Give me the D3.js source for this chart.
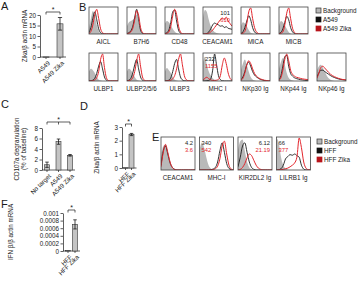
<!DOCTYPE html>
<html><head><meta charset="utf-8">
<script src="https://cdn.jsdelivr.net/npm/d3@7"></script>
<style>body{margin:0;background:#fff}svg{display:block;font-family:"Liberation Sans",Arial,sans-serif}</style>
</head><body><svg id="c" width="364" height="290"></svg>
<script>
// ---------- bar panel data ----------
const aCats = ["A549", "A549 Zika"];
const aVals = [0.05, 15.8];
const aErrs = [0, 3];
const aTicks = [0, 5, 10, 15, 20];

const cCats = ["No target", "A549", "A549 Zika"];
const cVals = [1.0, 5.4, 2.8];
const cErrs = [0.5, 0.5, 0.15];
const cTicks = [0, 2, 4, 6, 8];

const dCats = ["HFF", "HFF Zika"];
const dVals = [0.02, 2.45];
const dErrs = [0, 0.08];
const dTicks = [0, 1, 2, 3];

const fCats = ["HFF", "HFF Zika"];
const fVals = [0.00001, 0.0007];
const fErrs = [0, 0.00012];
const fTicks = [0, 0.0002, 0.0004, 0.0006, 0.0008, 0.001];

// ---------- histogram data (16 bins, % of panel height) ----------
const bRow1 = ["AICL", "B7H6", "CD48", "CEACAM1", "MICA", "MICB"];
const bRow2 = ["ULBP1", "ULBP2/5/6", "ULBP3", "MHC I", "NKp30 Ig", "NKp44 Ig", "NKp46 Ig"];
const bBackground = [
  [20,60,88,70,35,12,3,0,0,0,0,0,0,0,0,0],
  [30,45,50,55,62,75,45,15,3,0,0,0,0,0,0,0],
  [40,50,45,35,20,10,4,1,0,0,0,0,0,0,0,0],
  [60,92,85,55,30,15,8,4,2,1,0,0,0,0,0,0],
  [30,45,40,30,15,5,2,0,0,0,0,0,0,0,0,0],
  [30,50,45,35,20,8,2,0,0,0,0,0,0,0,0,0],
  [35,45,40,30,15,5,2,0,0,0,0,0,0,0,0,0],
  [35,45,40,30,15,5,2,0,0,0,0,0,0,0,0,0],
  [35,48,40,30,15,5,2,0,0,0,0,0,0,0,0,0],
  [70,90,60,35,20,10,5,2,1,0,0,0,0,0,0,0],
  [40,65,80,60,35,15,6,2,0,0,0,0,0,0,0,0],
  [45,70,85,60,30,12,5,2,0,0,0,0,0,0,0,0],
  [40,55,60,50,35,20,10,5,2,0,0,0,0,0,0,0]
];
const bA549 = [
  [5,25,60,85,55,20,5,1,0,0,0,0,0,0,0,0],
  [2,5,12,30,65,95,55,15,3,0,0,0,0,0,0,0],
  [2,5,15,45,85,92,50,15,3,0,0,0,0,0,0,0],
  [0,0,2,8,20,35,42,38,35,30,32,25,28,22,20,18],
  [2,8,25,50,70,55,25,8,2,0,0,0,0,0,0,0],
  [2,6,20,45,68,55,25,8,2,0,0,0,0,0,0,0],
  [0,1,3,10,28,55,72,45,15,3,0,0,0,0,0,0],
  [1,3,10,30,60,80,45,15,3,0,0,0,0,0,0,0],
  [0,1,3,12,35,65,80,45,15,4,1,0,0,0,0,0],
  [0,0,1,2,8,40,100,60,20,5,1,0,0,0,0,0],
  [5,15,35,60,70,55,35,22,15,10,6,4,2,1,0,0],
  [5,20,55,90,95,55,28,18,12,9,7,5,4,3,2,1],
  [15,30,40,40,35,30,25,20,16,13,10,8,6,5,4,3]
];
const bA549Zika = [
  [2,10,35,75,95,60,20,5,1,0,0,0,0,0,0,0],
  [1,3,8,22,55,90,72,25,6,1,0,0,0,0,0,0],
  [1,3,8,30,70,95,75,30,8,1,0,0,0,0,0,0],
  [0,0,1,3,8,15,25,35,45,55,62,55,65,50,40,30],
  [1,3,10,40,85,100,60,25,8,2,0,0,0,0,0,0],
  [1,3,8,35,80,100,60,22,6,1,0,0,0,0,0,0],
  [0,0,1,4,12,35,80,100,50,12,2,0,0,0,0,0],
  [0,1,4,12,35,75,100,55,15,3,0,0,0,0,0,0],
  [0,0,1,3,8,20,45,80,100,60,20,5,1,0,0,0],
  [3,10,14,8,4,2,2,3,6,20,60,85,65,30,10,3],
  [3,10,30,60,75,65,45,28,18,12,8,5,3,2,1,0],
  [3,12,40,80,100,75,40,25,18,14,12,10,8,7,6,5],
  [10,30,50,55,48,40,32,25,20,16,13,10,8,6,5,4]
];
const bNumMarkers = ["CEACAM1", "MHC I"];
const bNumBlack = ["101", "232"];
const bNumRed = ["610", "1155"];
const bLegend = ["Background", "A549", "A549 Zika"];

const eMarkers = ["CEACAM1", "MHC-I", "KIR2DL2 Ig", "LILRB1 Ig"];
const eBackground = [
  [40,75,80,50,20,6,2,0,0,0,0,0,0,0,0,0],
  [60,85,70,40,15,5,1,0,0,0,0,0,0,0,0,0],
  [60,90,95,60,25,8,2,0,0,0,0,0,0,0,0,0],
  [100,85,40,15,5,1,0,0,0,0,0,0,0,0,0,0]
];
const eHFF = [
  [15,60,75,50,22,8,2,0,0,0,0,0,0,0,0,0],
  [0,0,0,0,0,1,3,8,25,60,85,55,20,5,1,0],
  [10,40,75,85,55,25,8,2,0,0,0,0,0,0,0,0],
  [0,1,4,15,35,42,48,46,50,45,40,15,3,0,0,0]
];
const eHFFZika = [
  [10,55,80,55,25,8,2,0,0,0,0,0,0,0,0,0],
  [0,0,0,0,0,0,1,4,12,35,75,90,50,15,3,0],
  [0,2,8,20,38,50,45,30,15,6,2,0,0,0,0,0],
  [0,0,1,2,4,6,10,15,22,40,100,70,25,6,1,0]
];
const eNumBlack = ["4.2", "340", "6.12", "66"];
const eNumRed = ["3.6", "542", "21.19", "377"];
const eLegend = ["Background", "HFF", "HFF Zika"];

// ---------- drawing ----------
const svg = d3.select("#c");
const INK = "#1a1a1a", RED = "#e3262d", GREY = "#b9b9b9";
const FS = 6.3;

function letter(t, x, y) {
  svg.append("text").attr("x", x).attr("y", y).attr("font-size", 11).attr("fill", INK).text(t);
}

function barPanel(o) {
  const g = svg.append("g");
  const y = d3.scaleLinear().domain([o.ticks[0], o.ticks[o.ticks.length - 1]]).range([o.yBot, o.yTop]);
  const x = d3.scalePoint().domain(o.cats).range(o.xRange);
  const ag = g.append("g").attr("transform", `translate(${o.ax},0)`)
    .call(d3.axisLeft(y).tickValues(o.ticks).tickSize(2.5).tickPadding(1.5).tickSizeOuter(0).tickFormat(o.fmt));
  ag.attr("font-family", null).attr("font-size", FS);
  ag.selectAll("text").attr("fill", INK);
  ag.selectAll("line,path").attr("stroke", INK).attr("stroke-width", 0.7);
  // baseline + ticks
  g.append("line").attr("x1", o.ax).attr("x2", o.xRange[1] + o.barW).attr("y1", o.yBot).attr("y2", o.yBot)
    .attr("stroke", INK).attr("stroke-width", 0.7);
  o.cats.forEach(c => {
    g.append("line").attr("x1", x(c)).attr("x2", x(c)).attr("y1", o.yBot).attr("y2", o.yBot + 2)
      .attr("stroke", INK).attr("stroke-width", 0.7);
  });
  // bars
  o.cats.forEach((c, i) => {
    const v = o.vals[i], e = o.errs[i];
    g.append("rect").attr("x", x(c) - o.barW / 2).attr("y", y(v)).attr("width", o.barW)
      .attr("height", Math.max(0.5, o.yBot - y(v))).attr("fill", "#c4c4c4").attr("stroke", "#333").attr("stroke-width", 0.6);
    if (e > 0) {
      const cw = o.barW * 0.35;
      g.append("path").attr("d",
        `M${x(c)},${y(v - e)}V${y(v + e)}M${x(c) - cw},${y(v + e)}H${x(c) + cw}M${x(c) - cw},${y(v - e)}H${x(c) + cw}`)
        .attr("stroke", INK).attr("stroke-width", 0.8).attr("fill", "none");
    }
  });
  // rotated category labels
  o.cats.forEach(c => {
    g.append("text").attr("transform", `translate(${x(c) + 2},${o.yBot + 4}) rotate(-45)`)
      .attr("text-anchor", "end").attr("dy", "0.55em").attr("font-size", FS).attr("fill", INK).text(c);
  });
  // y label
  const mid = (o.yTop + o.yBot) / 2;
  o.label.forEach((l, i) => {
    g.append("text").attr("transform", `translate(${o.labelX + i * 7},${mid}) rotate(-90)`)
      .attr("text-anchor", "middle").attr("font-size", FS).attr("fill", INK).text(l);
  });
  // significance bracket
  const s = o.sig;
  const x1 = x(s[0]), x2 = x(s[s.length - 1]), by = o.bracketY;
  let d = `M${x1},${by + 2.5}V${by}H${x2}V${by + 2.5}`;
  s.slice(1, -1).forEach(c => { d += `M${x(c)},${by}V${by + 2.5}`; });
  g.append("path").attr("d", d).attr("fill", "none").attr("stroke", INK).attr("stroke-width", 0.7);
  const sx = s.length > 2 ? x(s[1]) : (x1 + x2) / 2;
  g.append("text").attr("x", sx).attr("y", by - 0.5).attr("text-anchor", "middle").attr("font-size", 7).attr("fill", INK).text("*");
}

function histPanel(name, bg, k, r, x0, y0, w, h, nums, numSide) {
  const g = svg.append("g");
  const x = d3.scaleLinear().domain([0, bg.length - 1]).range([x0, x0 + w]);
  const y = d3.scaleLinear().domain([0, 100]).range([y0 + h, y0 + 1]);
  const id = "cl" + Math.round(x0) + "_" + Math.round(y0);
  g.append("clipPath").attr("id", id).append("rect").attr("x", x0).attr("y", y0).attr("width", w).attr("height", h);
  const inner = g.append("g").attr("clip-path", `url(#${id})`);
  inner.append("path").datum(bg).attr("d", d3.area().x((d, i) => x(i)).y0(y0 + h).y1(d => y(d)).curve(d3.curveMonotoneX))
    .attr("fill", GREY);
  const line = d3.line().x((d, i) => x(i)).y(d => y(d)).curve(d3.curveMonotoneX);
  inner.append("path").datum(k).attr("d", line).attr("fill", "none").attr("stroke", INK).attr("stroke-width", 0.9);
  inner.append("path").datum(r).attr("d", line).attr("fill", "none").attr("stroke", RED).attr("stroke-width", 1);
  g.append("rect").attr("x", x0).attr("y", y0).attr("width", w).attr("height", h)
    .attr("fill", "none").attr("stroke", "#444").attr("stroke-width", 0.8);
  g.append("text").attr("x", x0 + w / 2).attr("y", y0 + h + 10).attr("text-anchor", "middle")
    .attr("font-size", FS).attr("fill", INK).text(name);
  if (nums) {
    const nx = numSide === "left" ? x0 + 2 : x0 + w - 2;
    const anc = numSide === "left" ? "start" : "end";
    g.append("text").attr("x", nx).attr("y", y0 + 8).attr("text-anchor", anc).attr("font-size", 5.8).attr("fill", INK).text(nums[0]);
    g.append("text").attr("x", nx).attr("y", y0 + 15).attr("text-anchor", anc).attr("font-size", 5.8).attr("fill", RED).text(nums[1]);
  }
}

function legend(items, x0, y0) {
  const fills = [GREY, "#111", "#b8141c"];
  items.forEach((t, i) => {
    svg.append("rect").attr("x", x0).attr("y", y0 + i * 9 - 3).attr("width", 5).attr("height", 5)
      .attr("fill", fills[i]).attr("stroke", i === 0 ? "#333" : fills[i]).attr("stroke-width", 0.7);
    svg.append("text").attr("x", x0 + 7).attr("y", y0 + i * 9 + 2).attr("font-size", FS).attr("fill", INK).text(t);
  });
}

// Panel letters
letter("A", 1, 10); letter("B", 79, 11); letter("C", 1, 108); letter("D", 80, 110);
letter("E", 152, 141); letter("F", 1, 208);

// A
barPanel({cats: aCats, vals: aVals, errs: aErrs, ticks: aTicks, fmt: d3.format("d"), ax: 40, yTop: 15, yBot: 57,
  xRange: [46, 60], barW: 6, label: ["Zika/β actin mRNA"], labelX: 27, sig: aCats, bracketY: 12});
// C
barPanel({cats: cCats, vals: cVals, errs: cErrs, ticks: cTicks, fmt: d3.format("d"), ax: 42, yTop: 128, yBot: 170,
  xRange: [47, 70], barW: 5, label: ["CD107a degranulation", "(% of baseline)"], labelX: 19, sig: cCats, bracketY: 122});
// D
barPanel({cats: dCats, vals: dVals, errs: dErrs, ticks: dTicks, fmt: d3.format("d"), ax: 122, yTop: 127, yBot: 168,
  xRange: [125.5, 131.5], barW: 5, label: ["Zika/β actin mRNA"], labelX: 99, sig: dCats, bracketY: 124});
// F
barPanel({cats: fCats, vals: fVals, errs: fErrs, ticks: fTicks, fmt: d => d === 0 ? "0" : String(+d.toFixed(4)),
  ax: 63, yTop: 213, yBot: 251, xRange: [68, 75], barW: 5, label: ["IFN β/β actin mRNA"], labelX: 13, sig: fCats, bracketY: 210});

// B histograms
bRow1.forEach((m, i) => {
  const ni = bNumMarkers.indexOf(m);
  histPanel(m, bBackground[i], bA549[i], bA549Zika[i], 89 + i * 38, 7, 29, 27,
    ni >= 0 ? [bNumBlack[ni], bNumRed[ni]] : null, "right");
});
bRow2.forEach((m, j) => {
  const i = j + bRow1.length;
  const ni = bNumMarkers.indexOf(m);
  histPanel(m, bBackground[i], bA549[i], bA549Zika[i], 89 + j * 38, 53, 29, 28,
    ni >= 0 ? [bNumBlack[ni], bNumRed[ni]] : null, "left");
});
legend(bLegend, 316, 11);

// E histograms
eMarkers.forEach((m, i) => {
  histPanel(m, eBackground[i], eHFF[i], eHFFZika[i], 161 + i * 38.5, 137, 34, 33,
    [eNumBlack[i], eNumRed[i]], (i % 2 === 0) ? "right" : "left");
});
legend(eLegend, 317, 142);
</script></body></html>
